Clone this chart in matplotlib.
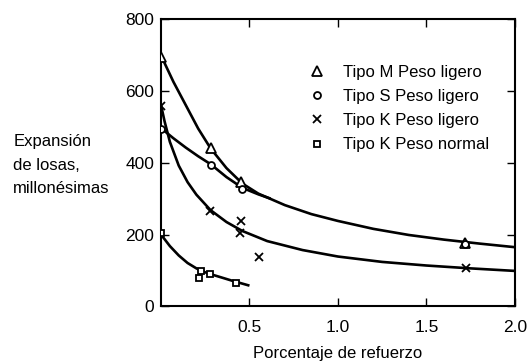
import matplotlib
matplotlib.use("Agg")
from matplotlib import pyplot as plt

plt.rcParams['font.family'] = ['Liberation Sans Narrow', 'Liberation Sans', 'DejaVu Sans']

# puntos medidos
m_x = [0.0, 0.28, 0.45, 1.72]
m_y = [695, 440, 345, 178]
s_x = [0.0, 0.28, 0.46, 1.72]
s_y = [495, 395, 326, 175]
kl_x = [0.0, 0.278, 0.454, 0.449, 0.555, 1.724]
kl_y = [558, 266, 237, 204, 137, 106]
kn_x = [0.0, 0.228, 0.217, 0.278, 0.422]
kn_y = [205, 98, 80, 91, 66]

# curvas ajustadas
cm_x = [0.0, 0.07, 0.14, 0.21, 0.28, 0.37, 0.46, 0.55, 0.7, 0.85, 1.0, 1.2, 1.4, 1.6, 1.8, 2.0]
cm_y = [698, 625, 560, 495, 440, 385, 342, 314, 282, 257, 238, 216, 199, 186, 175, 165]
cs_x = [0.0, 0.07, 0.14, 0.21, 0.28, 0.37, 0.46, 0.55, 0.62]
cs_y = [496, 468, 442, 418, 396, 360, 330, 312, 300]
ck_x = [0.0, 0.02, 0.05, 0.1, 0.15, 0.2, 0.28, 0.37, 0.46, 0.6, 0.8, 1.0, 1.25, 1.5, 1.75, 2.0]
ck_y = [560, 515, 458, 392, 346, 311, 268, 235, 210, 182, 157, 139, 124, 114, 106, 99]
cn_x = [0.0, 0.05, 0.1, 0.15, 0.2, 0.25, 0.3, 0.4, 0.5]
cn_y = [200, 168, 142, 121, 106, 95, 87, 72, 58]

fs = 12

fig = plt.figure(figsize=(5.28, 3.64), dpi=100)
ax = fig.add_axes([0.305, 0.158, 0.67, 0.79])

for cx, cy in [(cm_x, cm_y), (cs_x, cs_y), (ck_x, ck_y), (cn_x, cn_y)]:
    ax.plot(cx, cy, color='black', lw=1.9, solid_capstyle='butt', zorder=2)

mk = dict(color='black', linestyle='none', markerfacecolor='white', markeredgewidth=1.3, zorder=3)
ax.plot(m_x, m_y, marker='^', markersize=6.5, label='Tipo M Peso ligero', **mk)
ax.plot(s_x, s_y, marker='o', markersize=5, label='Tipo S Peso ligero', **mk)
ax.plot(kl_x, kl_y, marker='x', markersize=6, label='Tipo K Peso ligero', **mk)
ax.plot(kn_x, kn_y, marker='s', markersize=4.5, label='Tipo K Peso normal', **mk)

ax.set_xlim(0, 2.0)
ax.set_ylim(0, 800)
ax.set_xticks([0.5, 1.0, 1.5, 2.0])
ax.set_xticklabels(['0.5', '1.0', '1.5', '2.0'])
ax.set_yticks([0, 200, 400, 600, 800])
ax.tick_params(direction='in', length=6, width=1, top=True, right=True,
               labelsize=12.5, colors='black')
ax.tick_params(axis='y', pad=5)
ax.tick_params(axis='x', pad=10)
for sp in ax.spines.values():
    sp.set_linewidth(1.5)

ax.legend(loc='upper left', bbox_to_anchor=(0.418, 0.84), frameon=False,
          fontsize=fs, handlelength=1.0, handletextpad=1.05, labelspacing=0.55,
          borderaxespad=0, borderpad=0)

ax.set_xlabel('Porcentaje de refuerzo', fontsize=fs, labelpad=8)
fig.text(0.025, 0.631, 'Expansión\nde losas,\nmillonésimas', fontsize=fs,
         ha='left', va='top', linespacing=1.69)

plt.savefig('out.png', dpi=100)
